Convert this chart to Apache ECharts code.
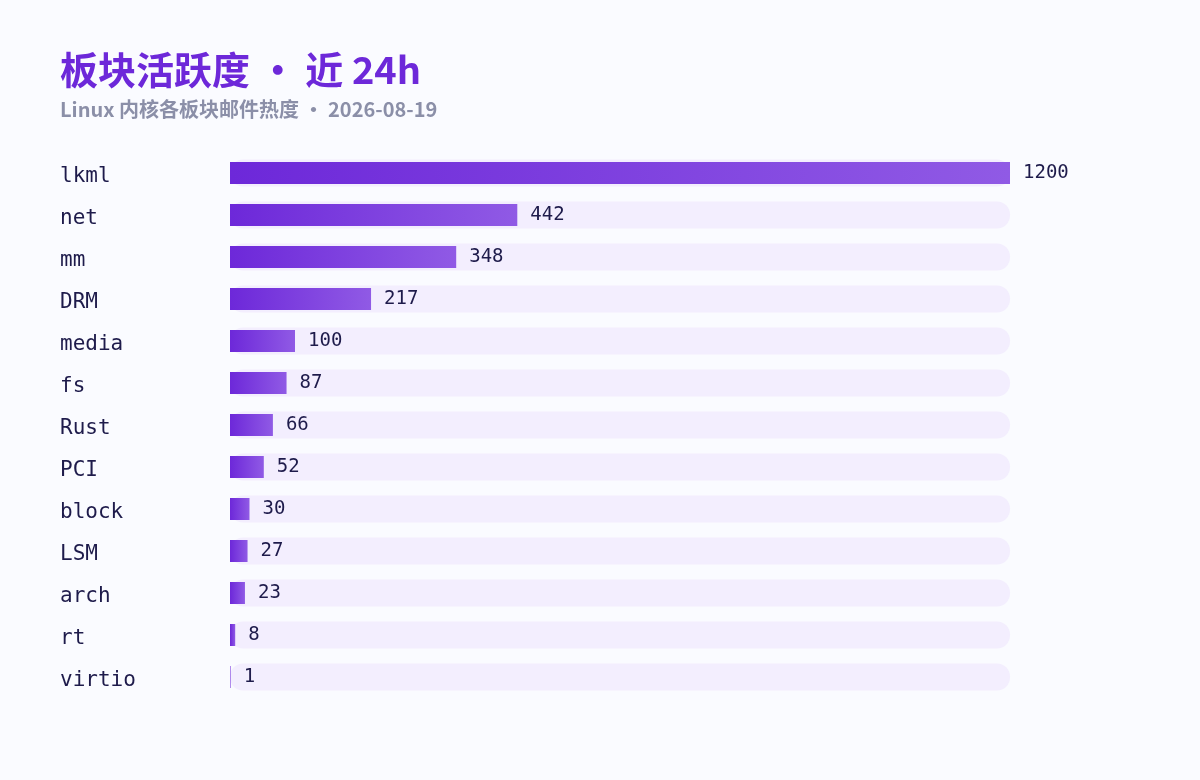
<!DOCTYPE html>
<html>
<head>
<meta charset="utf-8">
<script src="https://cdn.jsdelivr.net/npm/echarts@6/dist/echarts.min.js"></script>
<style>
	html, body { margin: 0; padding: 0; background: #fafbff; }
	#main { width: 1200px; height: 780px; }
</style>
</head>
<body>
<div id="main"></div>
<script>
// 板块名称与邮件数量
var categories = ['lkml', 'net', 'mm', 'DRM', 'media', 'fs', 'Rust', 'PCI', 'block', 'LSM', 'arch', 'rt', 'virtio'];
var counts = [1200, 442, 348, 217, 100, 87, 66, 52, 30, 27, 23, 8, 1];
var axisMax = 1200;

var trackValues = categories.map(function () { return axisMax; });

var myChart = echarts.init(document.getElementById('main'));
var option = {
	backgroundColor: '#fafbff',
	title: {
		text: '板块活跃度 • 近 24h',
		subtext: 'Linux 内核各板块邮件热度 • 2026-08-19',
		left: 55,
		top: 46,
		itemGap: 10,
		textStyle: {
			fontFamily: 'Noto Sans CJK SC',
			fontSize: 38,
			fontWeight: 'bold',
			color: '#6d28d9'
		},
		subtextStyle: {
			fontFamily: 'Noto Sans CJK SC',
			fontSize: 20,
			fontWeight: 'bold',
			color: '#8b8fa8'
		}
	},
	grid: {
		left: 230,
		right: 190,
		top: 152,
		bottom: 82
	},
	xAxis: {
		type: 'value',
		min: 0,
		max: axisMax,
		show: false
	},
	yAxis: [
		{
			type: 'category',
			data: categories,
			inverse: true,
			axisLine: { show: false },
			axisTick: { show: false },
			axisLabel: {
				align: 'left',
				verticalAlign: 'top',
				lineHeight: 8,
				margin: 170,
				fontFamily: 'DejaVu Sans Mono',
				fontSize: 21,
				color: '#1e1b4b'
			}
		},
		{
			type: 'category',
			data: categories,
			inverse: true,
			show: false
		}
	],
	series: [
		{
			// 背景轨道
			type: 'bar',
			yAxisIndex: 1,
			data: trackValues,
			barWidth: 27,
			silent: true,
			itemStyle: {
				color: '#f3eefe',
				borderRadius: 13
			},
			z: 1
		},
		{
			type: 'bar',
			yAxisIndex: 0,
			data: counts,
			barWidth: 22,
			itemStyle: {
				color: new echarts.graphic.LinearGradient(0, 0, 1, 0, [
					{ offset: 0, color: '#6d28d9' },
					{ offset: 1, color: '#905ae5' }
				])
			},
			label: {
				show: true,
				position: 'right',
				distance: 13,
				fontFamily: 'DejaVu Sans Mono',
				fontSize: 19,
				color: '#1e1b4b'
			},
			z: 2
		}
	]
};
myChart.setOption(option);
</script>
</body>
</html>
